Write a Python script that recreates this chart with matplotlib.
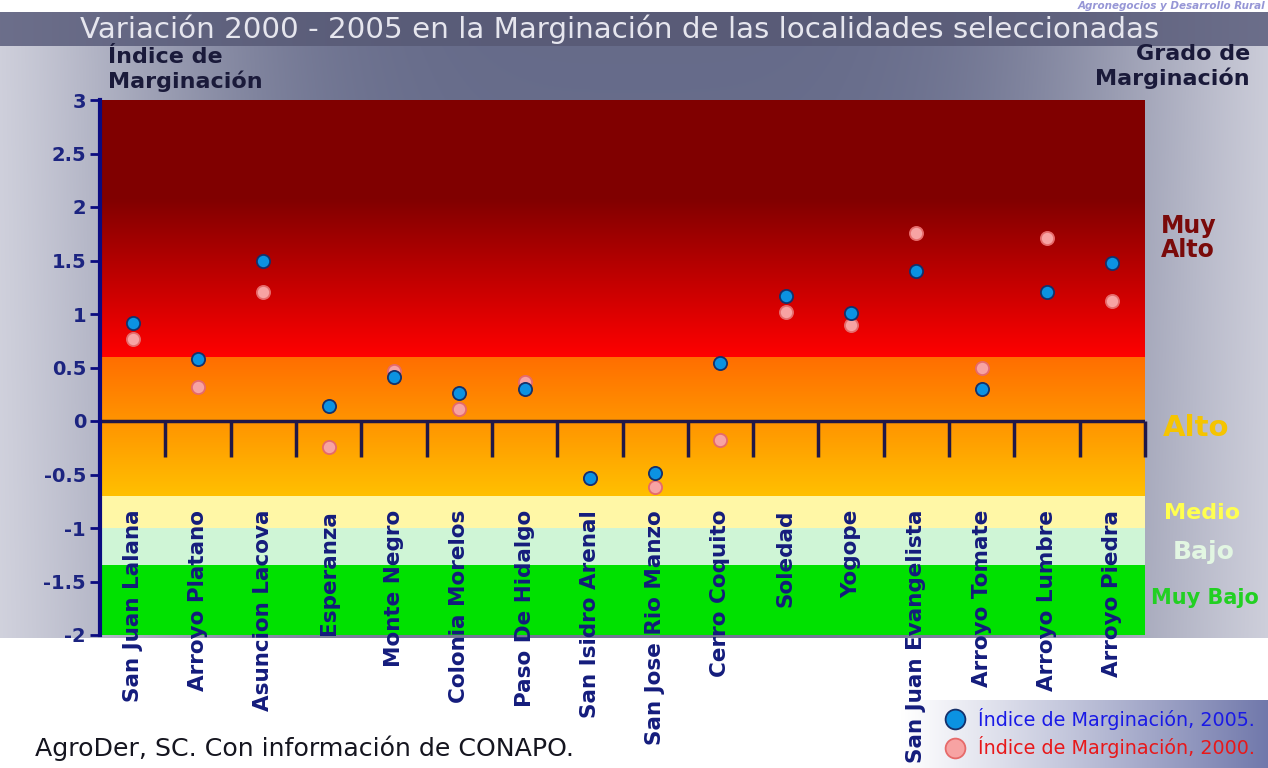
import numpy as np
import matplotlib
matplotlib.use("Agg")
import matplotlib.pyplot as plt

# ---------------- data ----------------
localidades = ["San Juan Lalana", "Arroyo Platano", "Asuncion Lacova", "Esperanza",
               "Monte Negro", "Colonia Morelos", "Paso De Hidalgo", "San Isidro Arenal",
               "San Jose Rio Manzo", "Cerro Coquito", "Soledad", "Yogope",
               "San Juan Evangelista", "Arroyo Tomate", "Arroyo Lumbre", "Arroyo Piedra"]
indice_2005 = [0.92, 0.58, 1.50, 0.14, 0.41, 0.26, 0.30, -0.53,
               -0.49, 0.54, 1.17, 1.01, 1.40, 0.30, 1.21, 1.48]
indice_2000 = [0.77, 0.32, 1.21, -0.24, 0.47, 0.11, 0.36, -0.53,
               -0.62, -0.18, 1.02, 0.90, 1.76, 0.50, 1.71, 1.12]
yticks = [-2, -1.5, -1, -0.5, 0, 0.5, 1, 1.5, 2, 2.5, 3]
ytick_labels = ["-2", "-1.5", "-1", "-0.5", "0", "0.5", "1", "1.5", "2", "2.5", "3"]
# grado de marginacion limits (lower bound of each band)
grado_limites = {"Muy Alto": 0.6, "Alto": -0.7, "Medio": -1.0, "Bajo": -1.35, "Muy Bajo": -2.0}

W, H = 1268, 768
fig = plt.figure(figsize=(W / 100, H / 100), dpi=100)


def fx(x):
    return x / W


def fy(y):
    return 1 - y / H


# ---------------- background ----------------
yy, xx = np.mgrid[0:H, 0:W].astype(float)
f = np.exp(-((xx - 640) / 560.0) ** 4)
light = np.array([0.90, 0.90, 0.93])
dark = np.array([0.40, 0.42, 0.54])
g = 1 - 0.10 * np.clip((yy - 46) / 590, 0, 1)
bg = light + (dark - light) * (f * g)[..., None]
bg[yy < 12] = 1.0
bar = (yy >= 12) & (yy < 46)
title_col = np.array([0.35, 0.36, 0.47])
bg[bar] = (title_col + (np.array([0.44, 0.45, 0.56]) - title_col) * (1 - f[..., None]))[bar]
bg[yy >= 638] = 1.0
leg = (yy >= 700) & (xx >= 900)
t = np.clip((xx - 900) / 368.0, 0, 1) ** 1.1
legc = np.ones(3) + (np.array([0.44, 0.47, 0.67]) - 1) * t[..., None]
bg[leg] = legc[leg]
bgax = fig.add_axes([0, 0, 1, 1], zorder=-10)
bgax.imshow(bg, extent=(0, W, H, 0), aspect="auto", interpolation="bilinear")
bgax.set_xlim(0, W)
bgax.set_ylim(H, 0)
bgax.axis("off")

# ---------------- main axes ----------------
ax = fig.add_axes([fx(100), fy(635), 1045 / W, 535 / H])
ax.set_xlim(-0.5, len(localidades) - 0.5)
ax.set_ylim(-2, 3)


def hexrgb(h):
    h = h.lstrip("#")
    return np.array([int(h[i:i + 2], 16) / 255 for i in (0, 2, 4)])


def band_color(v):
    if v >= grado_limites["Muy Alto"]:
        tt = min((v - 0.6) / 2.4 / 0.62, 1.0)
        return hexrgb("#ff0000") + (hexrgb("#800000") - hexrgb("#ff0000")) * tt
    if v >= grado_limites["Alto"]:
        tt = (0.6 - v) / 1.3
        return hexrgb("#ff6e00") + (hexrgb("#ffc000") - hexrgb("#ff6e00")) * tt
    if v >= grado_limites["Medio"]:
        return hexrgb("#fff7a6")
    if v >= grado_limites["Bajo"]:
        return hexrgb("#cff5d6")
    return hexrgb("#00e100")


vals = np.linspace(-2, 3, 1200)
img = np.array([band_color(v) for v in vals])[:, None, :]
ax.imshow(img, extent=(-0.5, len(localidades) - 0.5, -2, 3), origin="lower",
          aspect="auto", interpolation="nearest", zorder=0)

line_c = "#201848"
ax.axhline(0, color=line_c, lw=2.5, zorder=2)
ax.vlines(np.arange(len(localidades)) + 0.5, -0.336, 0, color=line_c, lw=2.5,
          zorder=2, clip_on=False)

xs = np.arange(len(localidades))
h00, = ax.plot(xs, indice_2000, "o", ls="none", ms=9.5, mfc="#f7a3a3", mec="#e66a6a",
               mew=1.3, zorder=4, label="Índice de Marginación, 2000.")
h05, = ax.plot(xs, indice_2005, "o", ls="none", ms=9.5, mfc="#0b92e2", mec="#15306a",
               mew=1.3, zorder=5, label="Índice de Marginación, 2005.")

for s in ["top", "right", "bottom"]:
    ax.spines[s].set_visible(False)
ax.spines["left"].set_color("#0b0b80")
ax.spines["left"].set_linewidth(3)
ax.set_xticks([])
ax.set_yticks(yticks)
ax.set_yticklabels(ytick_labels)
ax.tick_params(axis="y", direction="out", length=7, width=2, color="#0b0b80",
               labelsize=14, labelcolor="#1c2480", pad=3)
for lbl in ax.get_yticklabels():
    lbl.set_fontweight("bold")

for i, name in enumerate(localidades):
    ax.text(i, -0.83, name, rotation=90, ha="center", va="top", fontsize=15.5,
            fontweight="bold", color="#141c7c", family="DejaVu Sans",
            clip_on=False, zorder=6)

# ---------------- texts ----------------
renderer = fig.canvas.get_renderer()


def fit(txt, target):
    w = txt.get_window_extent(renderer).width
    txt.set_fontsize(txt.get_fontsize() * target / w)


title = fig.text(fx(620), fy(29), "Variación 2000 - 2005 en la Marginación de las localidades seleccionadas",
                 ha="center", va="center", color="#e6e6ee", fontsize=22)
fit(title, 1080)

fig.text(fx(1265), fy(1), "Agronegocios y Desarrollo Rural", ha="right", va="top",
         fontsize=7.5, color="#9696d6", fontweight="bold", style="italic")

fig.text(fx(108), fy(47), "Índice de\nMarginación", ha="left", va="top", fontsize=16,
         fontweight="bold", color="#1a1a3a", linespacing=1.2)
fig.text(fx(1250), fy(44), "Grado de\nMarginación", ha="right", va="top", fontsize=16,
         fontweight="bold", color="#1a1a3a", linespacing=1.2, multialignment="right")

fig.text(fx(1161), fy(238), "Muy\nAlto", ha="left", va="center", fontsize=17,
         fontweight="bold", color="#7a0a0a", linespacing=1.05, multialignment="left")
fig.text(fx(1196), fy(428), "Alto", ha="center", va="center", fontsize=21,
         fontweight="bold", color="#f5c400")
fig.text(fx(1202), fy(513), "Medio", ha="center", va="center", fontsize=16,
         fontweight="bold", color="#ffff50")
fig.text(fx(1204), fy(552), "Bajo", ha="center", va="center", fontsize=18,
         fontweight="bold", color="#e2f6e2")
fig.text(fx(1205), fy(598), "Muy Bajo", ha="center", va="center", fontsize=15,
         fontweight="bold", color="#22d022")

foot = fig.text(fx(35), fy(748), "AgroDer, SC. Con información de CONAPO.", ha="left",
                va="center", fontsize=16, color="#15151f")
fit(foot, 540)

fig.legend(handles=[h05, h00], labels=[h05.get_label(), h00.get_label()],
           loc="center left", bbox_to_anchor=(fx(926), fy(733)), frameon=False,
           fontsize=13.8, labelcolor=["#1a1ae6", "#e8181a"], markerscale=1.5,
           handletextpad=0.6, labelspacing=0.35, handlelength=1.2, borderpad=0.4)

fig.savefig("out.png", dpi=100)
